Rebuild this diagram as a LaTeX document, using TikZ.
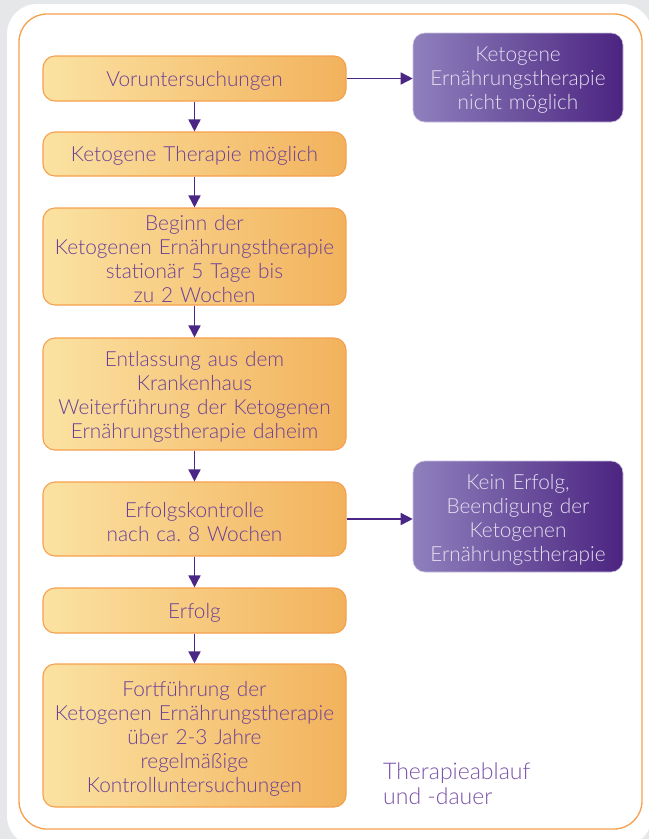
\documentclass[tikz,border=0pt]{standalone}
\usepackage{fontspec}
\setmainfont{Lato}[UprightFont={* Light}]
\usetikzlibrary{arrows.meta,calc}
\frenchspacing

% ---------- Farben ----------
\definecolor{bggrau}{HTML}{E6E7E9}
\definecolor{rahmen}{HTML}{F6A04D}
\definecolor{hellgelb}{HTML}{FBE2A2}
\definecolor{dunkelorange}{HTML}{F2B25C}
\definecolor{textlila}{HTML}{6B3F97}
\definecolor{pfeillila}{HTML}{4A2784}
\definecolor{helllila}{HTML}{8F80BD}
\definecolor{dunkellila}{HTML}{4B2480}
\definecolor{schriftweiss}{HTML}{E6DFF1}
\definecolor{titellila}{HTML}{7A52A8}

\tikzset{
  schritt/.style={draw=rahmen, line width=1.1pt, rounded corners=12pt,
    left color=hellgelb, right color=dunkelorange, text=textlila,
    align=center, inner sep=0pt, minimum width=303pt, text width=298pt,
    font=\fontsize{20.8}{24}\selectfont,
    execute at end node={\par\vspace{-6pt}}},
  ausgang/.style={draw=helllila!50, line width=0.6pt, rounded corners=12pt,
    left color=helllila, right color=dunkellila, text=schriftweiss,
    align=center, inner sep=0pt, minimum width=210pt, text width=206pt,
    font=\fontsize{20.8}{24}\selectfont,
    execute at end node={\par\vspace{-6pt}}},
  pfeil/.style={draw=pfeillila, line width=1.6pt,
    -{Triangle[length=12pt,width=12pt]}},
}

\begin{document}
\begin{tikzpicture}[x=1pt,y=-1pt]

% ---------- Parameter ----------
\def\xmitte{194.5}
\def\xrechts{518}

\useasboundingbox (0,0) rectangle (649,839);

% ---------- Hintergrund ----------
\fill[bggrau] (0,0) rectangle (649,839);
\fill[white, rounded corners=30pt] (7,4) rectangle (652,846);
\draw[rahmen, line width=1.3pt, rounded corners=28pt] (19,14) rectangle (642,829);

% ---------- Ablauf (links) ----------
\node[schritt, minimum height=45pt] (vorunt) at (\xmitte,78.5) {Voruntersuchungen};
\node[schritt, minimum height=44pt] (moeglich) at (\xmitte,154) {Ketogene Therapie möglich};
\node[schritt, minimum height=97pt] (beginn) at (\xmitte,256.5)
  {Beginn der\\Ketogenen Ernährungstherapie\\stationär 5 Tage bis\\zu 2 Wochen};
\node[schritt, minimum height=112pt] (entlassung) at (\xmitte,394)
  {Entlassung aus dem\\Krankenhaus\\Weiterführung der Ketogenen\\Ernährungstherapie daheim};
\node[schritt, minimum height=74pt] (kontrolle) at (\xmitte,519)
  {Erfolgskontrolle\\nach ca. 8 Wochen};
\node[schritt, minimum height=45pt] (erfolg) at (\xmitte,610.5) {Erfolg};
\node[schritt, minimum height=143pt] (fortf) at (\xmitte,735.5)
  {Fortführung der\\Ketogenen Ernährungstherapie\\über 2-3 Jahre\\regelmäßige\\Kontrolluntersuchungen};

% ---------- Abbruch (rechts) ----------
\node[ausgang, minimum height=89pt] (nicht) at (\xrechts,77.5)
  {Ketogene\\Ernährungstherapie\\nicht möglich};
\node[ausgang, minimum height=111pt] (keiner) at (\xrechts,516.5)
  {Kein Erfolg,\\Beendigung der\\Ketogenen\\Ernährungstherapie};

% ---------- Pfeile ----------
\draw[pfeil] (vorunt) -- (moeglich);
\draw[pfeil] (moeglich) -- (beginn);
\draw[pfeil] (beginn) -- (entlassung);
\draw[pfeil] (entlassung) -- (kontrolle);
\draw[pfeil] (kontrolle) -- (erfolg);
\draw[pfeil] (erfolg) -- (fortf);
\draw[pfeil] (vorunt.east) -- (vorunt.east -| nicht.west);
\draw[pfeil] (kontrolle.east) -- (kontrolle.east -| keiner.west);

% ---------- Titel ----------
\node[anchor=north west, inner sep=0pt, align=left, text=titellila,
  font=\fontsize{23}{25}\selectfont] (titel) at (383,763)
  {Therapieablauf\\und -dauer};

\end{tikzpicture}
\end{document}
